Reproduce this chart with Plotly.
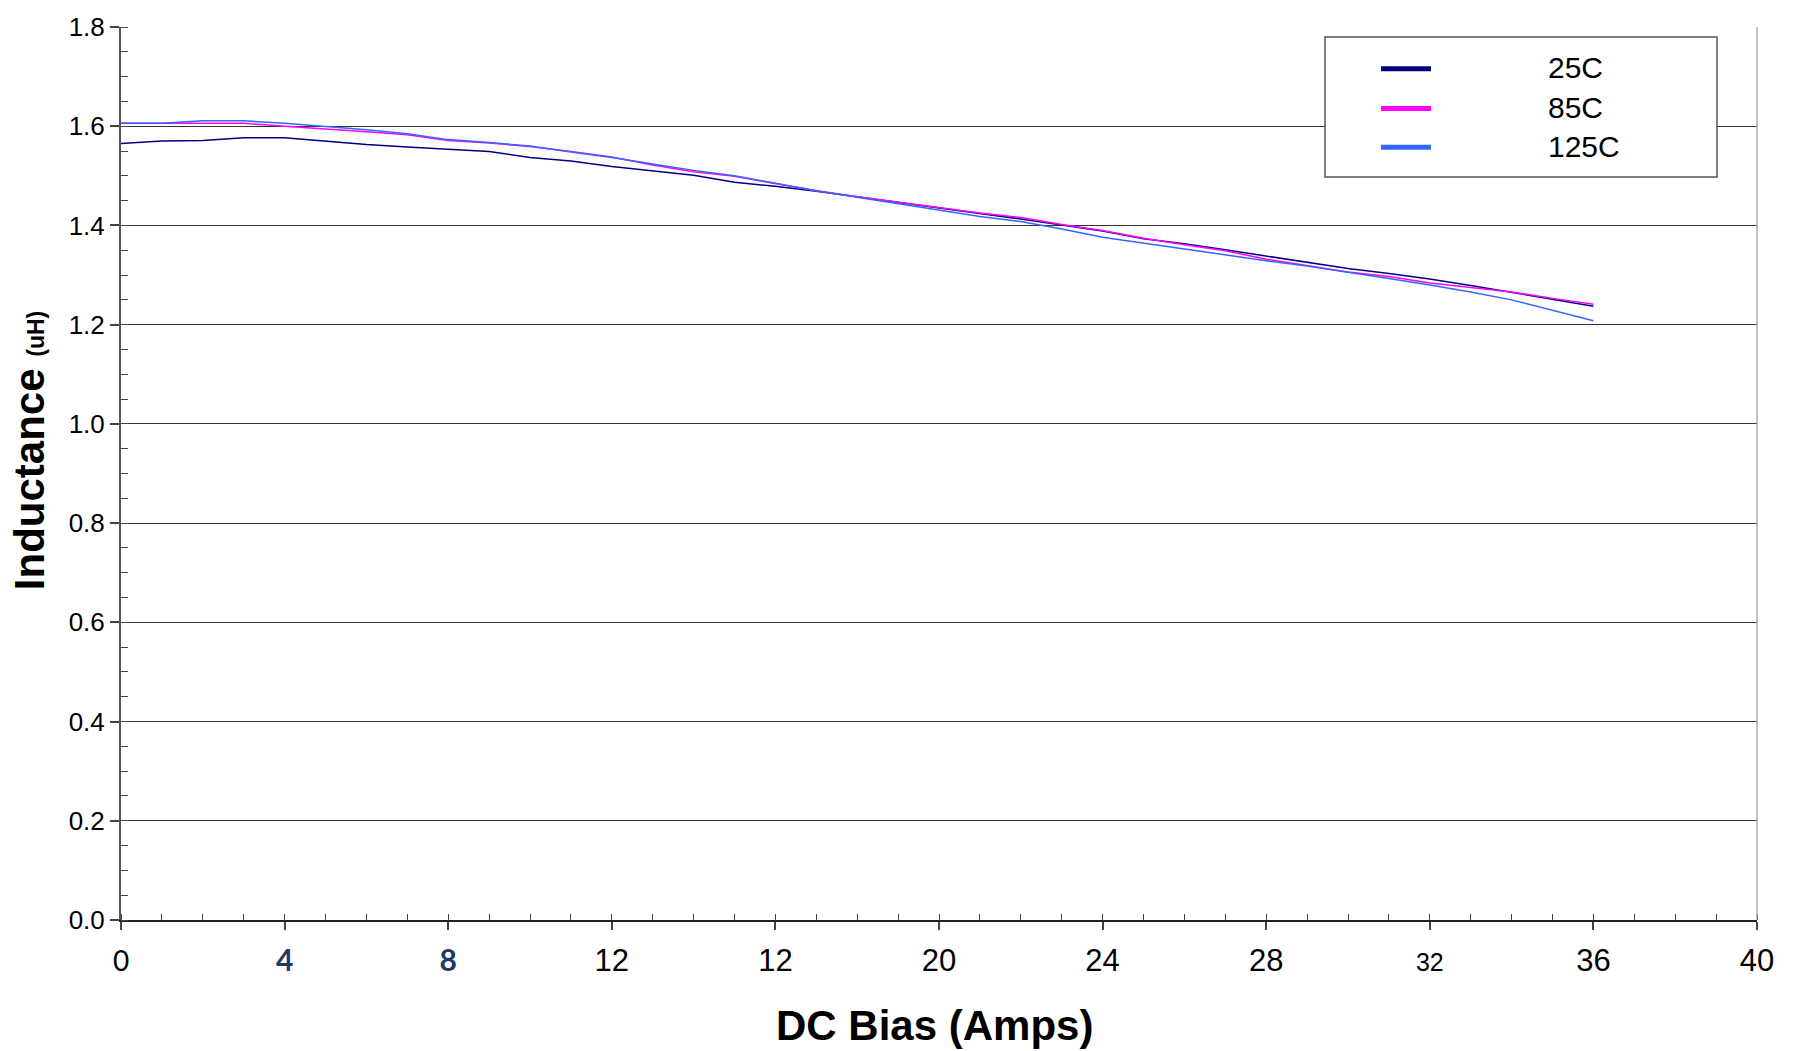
import plotly.graph_objects as go

# ---------------- data ----------------
bias_amps = list(range(0, 37))

ind_25c = [1.565, 1.570, 1.571, 1.577, 1.577, 1.570, 1.563, 1.558, 1.553, 1.549,
           1.537, 1.530, 1.519, 1.510, 1.501, 1.487, 1.479, 1.469, 1.458, 1.447,
           1.436, 1.425, 1.413, 1.401, 1.389, 1.373, 1.363, 1.351, 1.338, 1.325,
           1.313, 1.303, 1.292, 1.279, 1.265, 1.251, 1.237]

ind_85c = [1.606, 1.606, 1.606, 1.606, 1.600, 1.595, 1.589, 1.583, 1.571, 1.566,
           1.559, 1.549, 1.538, 1.522, 1.508, 1.499, 1.484, 1.470, 1.458, 1.447,
           1.436, 1.425, 1.416, 1.402, 1.390, 1.374, 1.361, 1.349, 1.332, 1.319,
           1.306, 1.297, 1.284, 1.275, 1.266, 1.253, 1.241]

ind_125c = [1.606, 1.606, 1.611, 1.611, 1.606, 1.600, 1.593, 1.585, 1.573, 1.567,
            1.560, 1.548, 1.537, 1.524, 1.511, 1.500, 1.485, 1.470, 1.457, 1.444,
            1.432, 1.418, 1.408, 1.393, 1.376, 1.364, 1.353, 1.341, 1.329, 1.318,
            1.306, 1.293, 1.280, 1.266, 1.250, 1.229, 1.208]

series_names = ["25C", "85C", "125C"]
series_values = [ind_25c, ind_85c, ind_125c]
series_colors = ["#000080", "#FF00FF", "#3366FF"]

x_tick_vals = [0, 4, 8, 12, 16, 20, 24, 28, 32, 36, 40]
x_tick_labels = ["0", "4", "8", "12", "12", "20", "24", "28", "32", "36", "40"]

# ---------------- figure ----------------
fig = go.Figure()
for name, vals, col in zip(series_names, series_values, series_colors):
    fig.add_trace(go.Scatter(x=bias_amps, y=vals, mode="lines", name=name,
                             line=dict(color=col, width=1.5, shape="linear"),
                             showlegend=False))

def style_label(lbl):
    if lbl == "0":
        return "<span style='font-family:Lato;font-size:28px'>0</span>"
    if lbl in ("4", "8"):
        return ("<b><span style='font-family:Lato;font-size:30px;"
                "color:#1F3864'>" + lbl + "</span></b>")
    if lbl == "32":
        return "<span style='font-size:25px'>32</span>"
    return lbl

fig.update_layout(
    width=1798, height=1051,
    margin=dict(l=121, r=41, t=21, b=131),
    paper_bgcolor="white", plot_bgcolor="white",
    font=dict(family="Liberation Sans, Arial", color="black"),
    xaxis=dict(
        range=[0, 40], tickmode="array", tickvals=x_tick_vals,
        ticktext=[style_label(t) for t in x_tick_labels],
        tickfont=dict(size=31, color="black"),
        ticks="outside", ticklen=8, tickwidth=1.5, tickcolor="#444",
        showline=True, linecolor="#222", linewidth=1.5,
        showgrid=False, zeroline=False,
        minor=dict(dtick=1, ticks="inside", ticklen=6, tickwidth=1.2,
                   tickcolor="#444", showgrid=False),
        ticklabelstandoff=4,
    ),
    yaxis=dict(
        range=[0, 1.8], dtick=0.2, tick0=0, tickformat=".1f",
        tickfont=dict(size=26, color="black"),
        ticks="outside", ticklen=9, tickwidth=1.5, tickcolor="#444",
        showline=True, linecolor="#555", linewidth=2,
        showgrid=True, gridcolor="#333", gridwidth=1.2,
        zeroline=False,
        minor=dict(dtick=0.05, ticks="inside", ticklen=7, tickwidth=1.2,
                   tickcolor="#444", showgrid=False),
    ),
)

# right border of plot area
fig.add_shape(type="line", xref="paper", yref="paper", x0=1, x1=1, y0=0, y1=1,
              line=dict(color="#999", width=1.2))

# manual legend box
W, H = 1636.0, 899.0
def px_x(p):
    return (p - 121) / W
def px_y(p):
    return (920 - p) / H

fig.add_shape(type="rect", xref="paper", yref="paper",
              x0=px_x(1325), x1=px_x(1717), y0=px_y(172), y1=px_y(31),
              line=dict(color="#555", width=1.5), fillcolor="white", layer="above")
legend_rows = [63, 103, 142]
for name, col, yy in zip(series_names, series_colors, legend_rows):
    fig.add_shape(type="line", xref="paper", yref="paper",
                  x0=px_x(1381), x1=px_x(1431), y0=px_y(yy), y1=px_y(yy),
                  line=dict(color=col, width=5), layer="above")
    fig.add_annotation(xref="paper", yref="paper", x=px_x(1546), y=px_y(yy - 1),
                       text=name, showarrow=False, xanchor="left", yanchor="middle",
                       font=dict(size=30, color="black"))

# axis titles
fig.add_annotation(xref="paper", yref="paper", x=px_x(934), y=px_y(1026),
                   text="<b>DC Bias (Amps)</b>", showarrow=False,
                   xanchor="center", yanchor="middle",
                   font=dict(size=42, color="black"))
fig.add_annotation(xref="paper", yref="paper", x=px_x(29), y=px_y(448),
                   text="<b>Inductance</b> <b><span style='font-size:23px'>(uH)</span></b>",
                   showarrow=False, textangle=-90,
                   xanchor="center", yanchor="middle",
                   font=dict(size=42, color="black"))

fig.write_html("out.html")
